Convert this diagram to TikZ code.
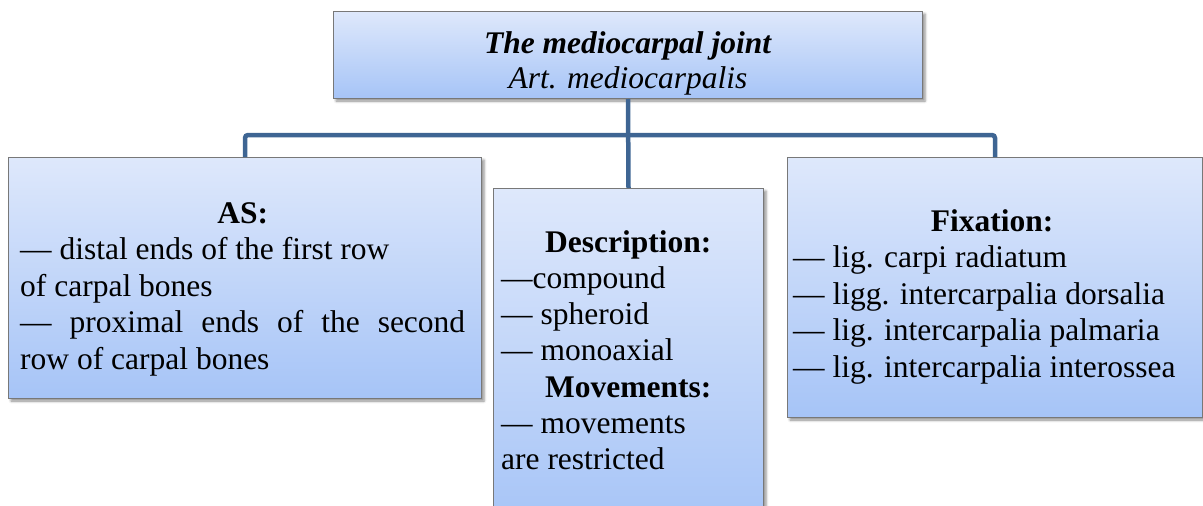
\documentclass[tikz,border=0pt]{standalone}
\usepackage{fontspec}
\setmainfont{Liberation Serif}
\usetikzlibrary{shadows.blur}

\definecolor{boxtop}{RGB}{222,232,251}
\definecolor{boxbot}{RGB}{166,196,247}
\definecolor{boxline}{RGB}{120,120,120}
\definecolor{connblue}{RGB}{62,101,147}

\tikzset{
  panel/.style={draw=boxline, line width=1pt, top color=boxtop, bottom color=boxbot,
    anchor=north west, inner sep=0pt,
    blur shadow={shadow xshift=2.5pt, shadow yshift=-2.5pt, shadow blur radius=2.5pt, shadow opacity=45}},
  conn/.style={draw=connblue, line width=4.5pt},
  label/.style={inner sep=0pt, anchor=base west, font=\fontsize{31.5}{36.6}\selectfont}
}

\begin{document}
\begin{tikzpicture}[x=1pt, y=-1pt]
\useasboundingbox (0,0) rectangle (1203,506);

% boxes
\node[panel, minimum width=589pt, minimum height=87pt]  (top)  at (333,11)  {};
\node[panel, minimum width=473pt, minimum height=241pt] (as)   at (8,157)   {};
\node[panel, minimum width=270pt, minimum height=340pt] (desc) at (493,188) {};
\node[panel, minimum width=415pt, minimum height=260pt] (fix)  at (787,157) {};

% connectors
\coordinate (bar) at (628,135);
\draw[conn, rounded corners=3pt] (as.north) |- (bar) -| (fix.north);
\draw[conn] (top.south) -- (desc.north);

% title
\node[inner sep=0pt, anchor=base, font=\fontsize{31.5}{35}\selectfont] (title) at (628,53)
  {\parbox[t]{560pt}{\centering\textbf{\textit{The mediocarpal joint}}\\\textit{Art. mediocarpalis}}};

% articulating surfaces
\node[label] (astext) at (20,223) {\parbox[t]{445pt}{\setlength{\parindent}{0pt}%
  \centerline{\textbf{AS:}}
  — distal ends of the first row\\
  of carpal bones\\
  —\hfill proximal\hfill ends\hfill of\hfill the\hfill second\\
  row of carpal bones}};

% description and movements
\node[label, font=\fontsize{31.5}{36.3}\selectfont] (desctext) at (501,252) {\parbox[t]{254pt}{\setlength{\parindent}{0pt}%
  \centerline{\textbf{Description:}}
  —compound\\
  — spheroid\\
  — monoaxial\\
  \centerline{\textbf{Movements:}}
  — movements\\
  are restricted}};

% ligaments
\node[label, font=\fontsize{31.5}{36.5}\selectfont] (fixtext) at (793,231) {\parbox[t]{398pt}{\setlength{\parindent}{0pt}%
  \centerline{\textbf{Fixation:}}
  — lig. carpi radiatum\\
  — ligg. intercarpalia dorsalia\\
  — lig. intercarpalia palmaria\\
  — lig. intercarpalia interossea}};
\end{tikzpicture}
\end{document}
